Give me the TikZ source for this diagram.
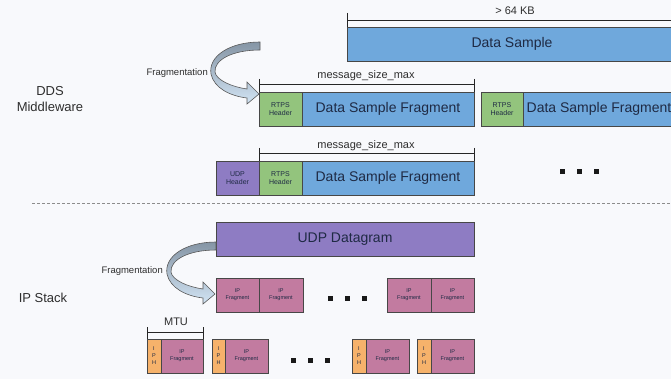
\documentclass[tikz,border=0pt]{standalone}
\usepackage{fontspec}
\setmainfont{Liberation Sans}
\definecolor{bg}{HTML}{F8F9FC}
\definecolor{dsblue}{HTML}{6FA8DC}
\definecolor{rtpsgreen}{HTML}{93C47D}
\definecolor{udppurple}{HTML}{8E7CC3}
\definecolor{ippink}{HTML}{C27BA0}
\definecolor{iphorange}{HTML}{F6B26B}
\definecolor{edge}{HTML}{474747}
\definecolor{ink}{HTML}{1F2A44}
\definecolor{labelink}{HTML}{2E2E2E}
\definecolor{arrowtop}{HTML}{8595A5}
\definecolor{arrowbot}{HTML}{D2E4F4}
\begin{document}
\begin{tikzpicture}[x=1pt,y=-1pt,
  box/.style={draw=edge, line width=0.8pt, inner sep=0pt, outer sep=0pt,
    minimum height=34pt, anchor=north west, text=ink, align=center},
  bigtxt/.style={font=\fontsize{14}{16}\selectfont},
  hdrtxt/.style={font=\fontsize{7}{8.5}\selectfont},
  tinytxt/.style={font=\fontsize{5.5}{7}\selectfont},
  sizetxt/.style={font=\fontsize{11}{13}\selectfont, text=labelink, inner sep=0pt},
  sidetxt/.style={font=\fontsize{13}{16}\selectfont, text=labelink, align=center, inner sep=0pt},
  fragtxt/.style={font=\fontsize{9.5}{11}\selectfont, text=labelink, inner sep=0pt},
  bracket/.style={draw=black!85, line width=0.8pt},
  dot/.style={fill=black!90, minimum size=5pt, inner sep=0pt, outer sep=0pt},
  fragarrow/.pic={
    \draw[draw=black!65, line width=0.6pt, top color=arrowtop, bottom color=arrowbot]
      (0,-4) .. controls (-30,-4) and (-52,10) .. (-49,28)
      .. controls (-46,42) and (-30,50) .. (-13,52)
      -- (-13,58) -- (-1,48) -- (-13,36) -- (-13,43)
      .. controls (-28,41) and (-44,34) .. (-45,26)
      .. controls (-46,14) and (-28,4) .. (0,4) -- cycle;
  }]
\fill[bg] (0,0) rectangle (671,379);
\useasboundingbox (0,0) rectangle (671,379);

% side labels
\node[sidetxt] (dds) at (50,99) {DDS\\Middleware};
\node[sidetxt] (ipstack) at (43,298) {IP Stack};

% DDS layer: whole sample
\node[box, fill=dsblue, bigtxt, minimum width=330pt] (ds) at (347,27) {Data Sample};
\draw[bracket] ([yshift=14pt]ds.north west) -- (ds.north west);
\draw[bracket] ([yshift=7pt]ds.north west) -- ([yshift=7pt]ds.north east);
\node[sizetxt] (kb) at (515,11) {> 64 KB};

% DDS layer: RTPS fragments
\node[box, fill=rtpsgreen, hdrtxt, minimum width=43pt] (rh1) at (259,92) {RTPS\\Header};
\node[box, fill=dsblue, bigtxt, minimum width=172pt] (df1) at (302,92) {Data Sample Fragment};
\node[box, fill=rtpsgreen, hdrtxt, minimum width=42pt] (rh2) at (481,92) {RTPS\\Header};
\node[box, fill=dsblue, bigtxt, minimum width=152pt] (df2) at (523,92) {Data Sample Fragment};
\draw[bracket] ([yshift=13pt]rh1.north west) -- (rh1.north west);
\draw[bracket] ([yshift=13pt]df1.north east) -- (df1.north east);
\draw[bracket] ([yshift=8pt]rh1.north west) -- ([yshift=8pt]df1.north east);
\node[sizetxt] (msm1) at (366,76) {message\_size\_max};

% DDS layer: fragment wrapped in UDP
\node[box, fill=udppurple, hdrtxt, minimum width=43pt] (uh) at (216,161) {UDP\\Header};
\node[box, fill=rtpsgreen, hdrtxt, minimum width=43pt] (rh3) at (259,161) {RTPS\\Header};
\node[box, fill=dsblue, bigtxt, minimum width=172pt] (df3) at (302,161) {Data Sample Fragment};
\draw[bracket] ([yshift=13pt]rh3.north west) -- (rh3.north west);
\draw[bracket] ([yshift=13pt]df3.north east) -- (df3.north east);
\draw[bracket] ([yshift=8pt]rh3.north west) -- ([yshift=8pt]df3.north east);
\node[sizetxt] (msm2) at (366,146) {message\_size\_max};
\node[dot] (d1) at (562,172) {};
\node[dot] (d2) at (579,172) {};
\node[dot] (d3) at (596,172) {};

% layer separator
\draw[black!45, line width=0.7pt, dash pattern=on 3pt off 2pt] (32,203) -- (671,203);

% IP layer
\node[box, fill=udppurple, bigtxt, minimum width=258pt] (udp) at (216,222) {UDP Datagram};

\node[box, fill=ippink, tinytxt, minimum width=43pt] (f1) at (216,278) {IP\\Fragment};
\node[box, fill=ippink, tinytxt, minimum width=44pt] (f2) at (259,278) {IP\\Fragment};
\node[dot] (d4) at (330,298) {};
\node[dot] (d5) at (347,298) {};
\node[dot] (d6) at (364,298) {};
\node[box, fill=ippink, tinytxt, minimum width=44pt] (f3) at (387,278) {IP\\Fragment};
\node[box, fill=ippink, tinytxt, minimum width=43pt] (f4) at (431,278) {IP\\Fragment};

% IP packets with headers
\node[box, fill=iphorange, tinytxt, minimum width=14pt] (h1) at (147,339) {I\\P\\H};
\node[box, fill=ippink, tinytxt, minimum width=42pt] (p1) at (161,339) {IP\\Fragment};
\node[box, fill=iphorange, tinytxt, minimum width=13pt] (h2) at (212,339) {I\\P\\H};
\node[box, fill=ippink, tinytxt, minimum width=43pt] (p2) at (225,339) {IP\\Fragment};
\node[dot] (d7) at (293,360) {};
\node[dot] (d8) at (310,360) {};
\node[dot] (d9) at (327,360) {};
\node[box, fill=iphorange, tinytxt, minimum width=14pt] (h3) at (352,339) {I\\P\\H};
\node[box, fill=ippink, tinytxt, minimum width=43pt] (p3) at (366,339) {IP\\Fragment};
\node[box, fill=iphorange, tinytxt, minimum width=14pt] (h4) at (417,339) {I\\P\\H};
\node[box, fill=ippink, tinytxt, minimum width=43pt] (p4) at (431,339) {IP\\Fragment};
\draw[bracket] ([yshift=12pt]h1.north west) -- (h1.north west);
\draw[bracket] ([yshift=12pt]p1.north east) -- (p1.north east);
\draw[bracket] ([yshift=7pt]h1.north west) -- ([yshift=7pt]p1.north east);
\node[sizetxt] (mtu) at (176,322) {MTU};

% fragmentation arrows
\pic at (260,46) {fragarrow};
\node[fragtxt, anchor=east] (frag1) at (208,73) {Fragmentation};
\pic at (216,246) {fragarrow};
\node[fragtxt, anchor=east] (frag2) at (163,271) {Fragmentation};
\end{tikzpicture}
\end{document}
